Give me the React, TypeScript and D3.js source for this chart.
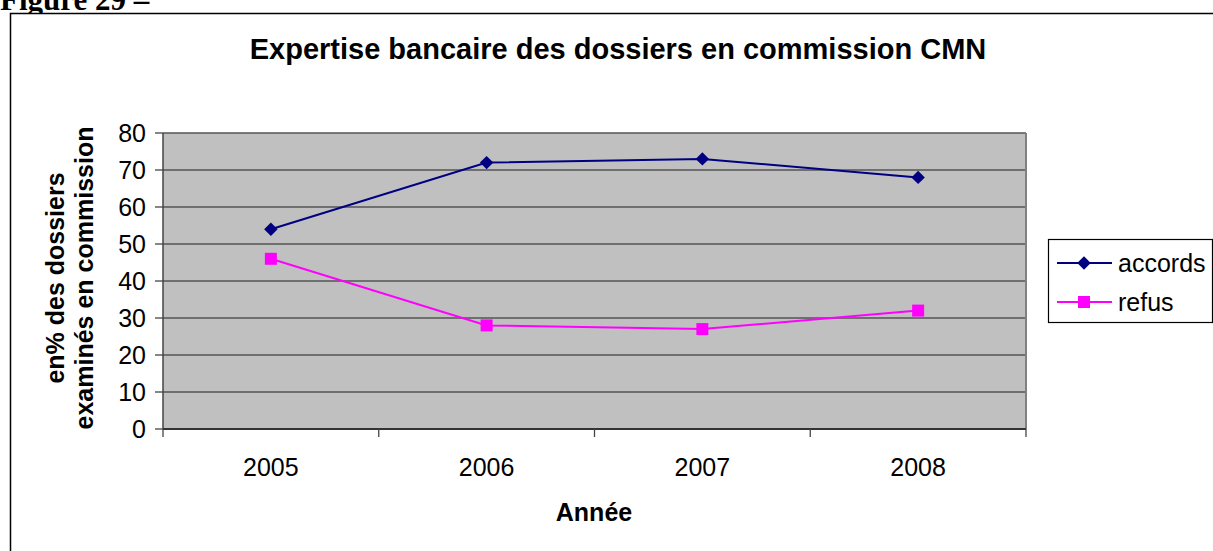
import React from "react";
import * as d3 from "d3";

const years = ["2005", "2006", "2007", "2008"];
const accords = [54, 72, 73, 68];
const refus = [46, 28, 27, 32];
const yTicks = [0, 10, 20, 30, 40, 50, 60, 70, 80];
const seriesNames = ["accords", "refus"];

const W = 1213;
const H = 551;
const plot = { left: 163, right: 1026, top: 133, bottom: 429 };
const NAVY = "#000080";
const MAGENTA = "#FF00FF";
const SANS = "'Liberation Sans', Arial, sans-serif";

export default function App() {
  const x = d3.scaleBand<string>().domain(years).range([plot.left, plot.right]).padding(0);
  const cx = (d: string) => (x(d) as number) + x.bandwidth() / 2;
  const y = d3.scaleLinear().domain([0, 80]).range([plot.bottom, plot.top]);
  const line = d3
    .line<number>()
    .x((_, i) => cx(years[i]))
    .y((d) => y(d));
  const diamond = d3.symbol().type(d3.symbolDiamond2).size(115)();
  const boundaries = [...years.map((d) => x(d) as number), plot.right];

  return (
    <svg
      width={W}
      height={H}
      style={{ position: "absolute", left: 0, top: 0, background: "#fff" }}
      xmlns="http://www.w3.org/2000/svg"
    >
      <text x={0} y={10} fontFamily="'Liberation Serif', 'Times New Roman', serif" fontWeight="bold" fontSize={31}>
        Figure 29 –
      </text>
      <rect x={10.5} y={13.5} width={1210} height={560} fill="#fff" stroke="#000" strokeWidth={1.5} />

      <text x={618} y={59} textAnchor="middle" fontFamily={SANS} fontWeight="bold" fontSize={29}>
        Expertise bancaire des dossiers en commission CMN
      </text>

      {/* plot area */}
      <rect x={plot.left} y={plot.top} width={plot.right - plot.left} height={plot.bottom - plot.top} fill="#C0C0C0" />
      {yTicks.map((t) => (
        <line key={"g" + t} x1={plot.left} x2={plot.right} y1={y(t)} y2={y(t)} stroke="#555" strokeWidth={1.3} />
      ))}
      <line x1={plot.right} x2={plot.right} y1={plot.top} y2={plot.bottom} stroke="#808080" strokeWidth={2} />
      {/* y axis */}
      <line x1={plot.left} x2={plot.left} y1={plot.top} y2={plot.bottom} stroke="#444" strokeWidth={1.5} />
      {yTicks.map((t) => (
        <g key={"yt" + t}>
          <line x1={plot.left - 8} x2={plot.left} y1={y(t)} y2={y(t)} stroke="#444" strokeWidth={1.3} />
          <text x={146} y={y(t)} dy="0.36em" textAnchor="end" fontFamily={SANS} fontSize={25}>
            {t}
          </text>
        </g>
      ))}
      {/* x axis */}
      <line x1={plot.left} x2={plot.right} y1={plot.bottom} y2={plot.bottom} stroke="#333" strokeWidth={1.8} />
      {boundaries.map((b, i) => (
        <line key={"xt" + i} x1={b} x2={b} y1={plot.bottom} y2={plot.bottom + 8} stroke="#444" strokeWidth={1.3} />
      ))}
      {years.map((d) => (
        <text key={"xl" + d} x={cx(d)} y={476} textAnchor="middle" fontFamily={SANS} fontSize={25}>
          {d}
        </text>
      ))}
      <text x={594} y={521} textAnchor="middle" fontFamily={SANS} fontWeight="bold" fontSize={25}>
        Année
      </text>
      <g transform="translate(64,278) rotate(-90)">
        <text x={0} y={0} textAnchor="middle" fontFamily={SANS} fontWeight="bold" fontSize={25}>
          en% des dossiers
        </text>
      </g>
      <g transform="translate(93,278) rotate(-90)">
        <text x={0} y={0} textAnchor="middle" fontFamily={SANS} fontWeight="bold" fontSize={25}>
          examinés en commission
        </text>
      </g>

      {/* series */}
      <path d={line(accords) as string} fill="none" stroke={NAVY} strokeWidth={2} />
      <path d={line(refus) as string} fill="none" stroke={MAGENTA} strokeWidth={2} />
      {accords.map((v, i) => (
        <path key={"a" + i} d={diamond as string} transform={`translate(${cx(years[i])},${y(v)})`} fill={NAVY} />
      ))}
      {refus.map((v, i) => (
        <rect key={"r" + i} x={cx(years[i]) - 6} y={y(v) - 6} width={12} height={12} fill={MAGENTA} />
      ))}

      {/* legend */}
      <rect x={1048.5} y={239.5} width={164} height={83} fill="#fff" stroke="#000" strokeWidth={1.2} />
      {seriesNames.map((name, i) => {
        const ly = i === 0 ? 263 : 302;
        const col = i === 0 ? NAVY : MAGENTA;
        return (
          <g key={name}>
            <line x1={1057} x2={1112} y1={ly} y2={ly} stroke={col} strokeWidth={2} />
            {i === 0 ? (
              <path d={diamond as string} transform={`translate(1084,${ly})`} fill={col} />
            ) : (
              <rect x={1078} y={ly - 6} width={12} height={12} fill={col} />
            )}
            <text x={1118} y={ly} dy="0.36em" fontFamily={SANS} fontSize={25}>
              {name}
            </text>
          </g>
        );
      })}
    </svg>
  );
}
